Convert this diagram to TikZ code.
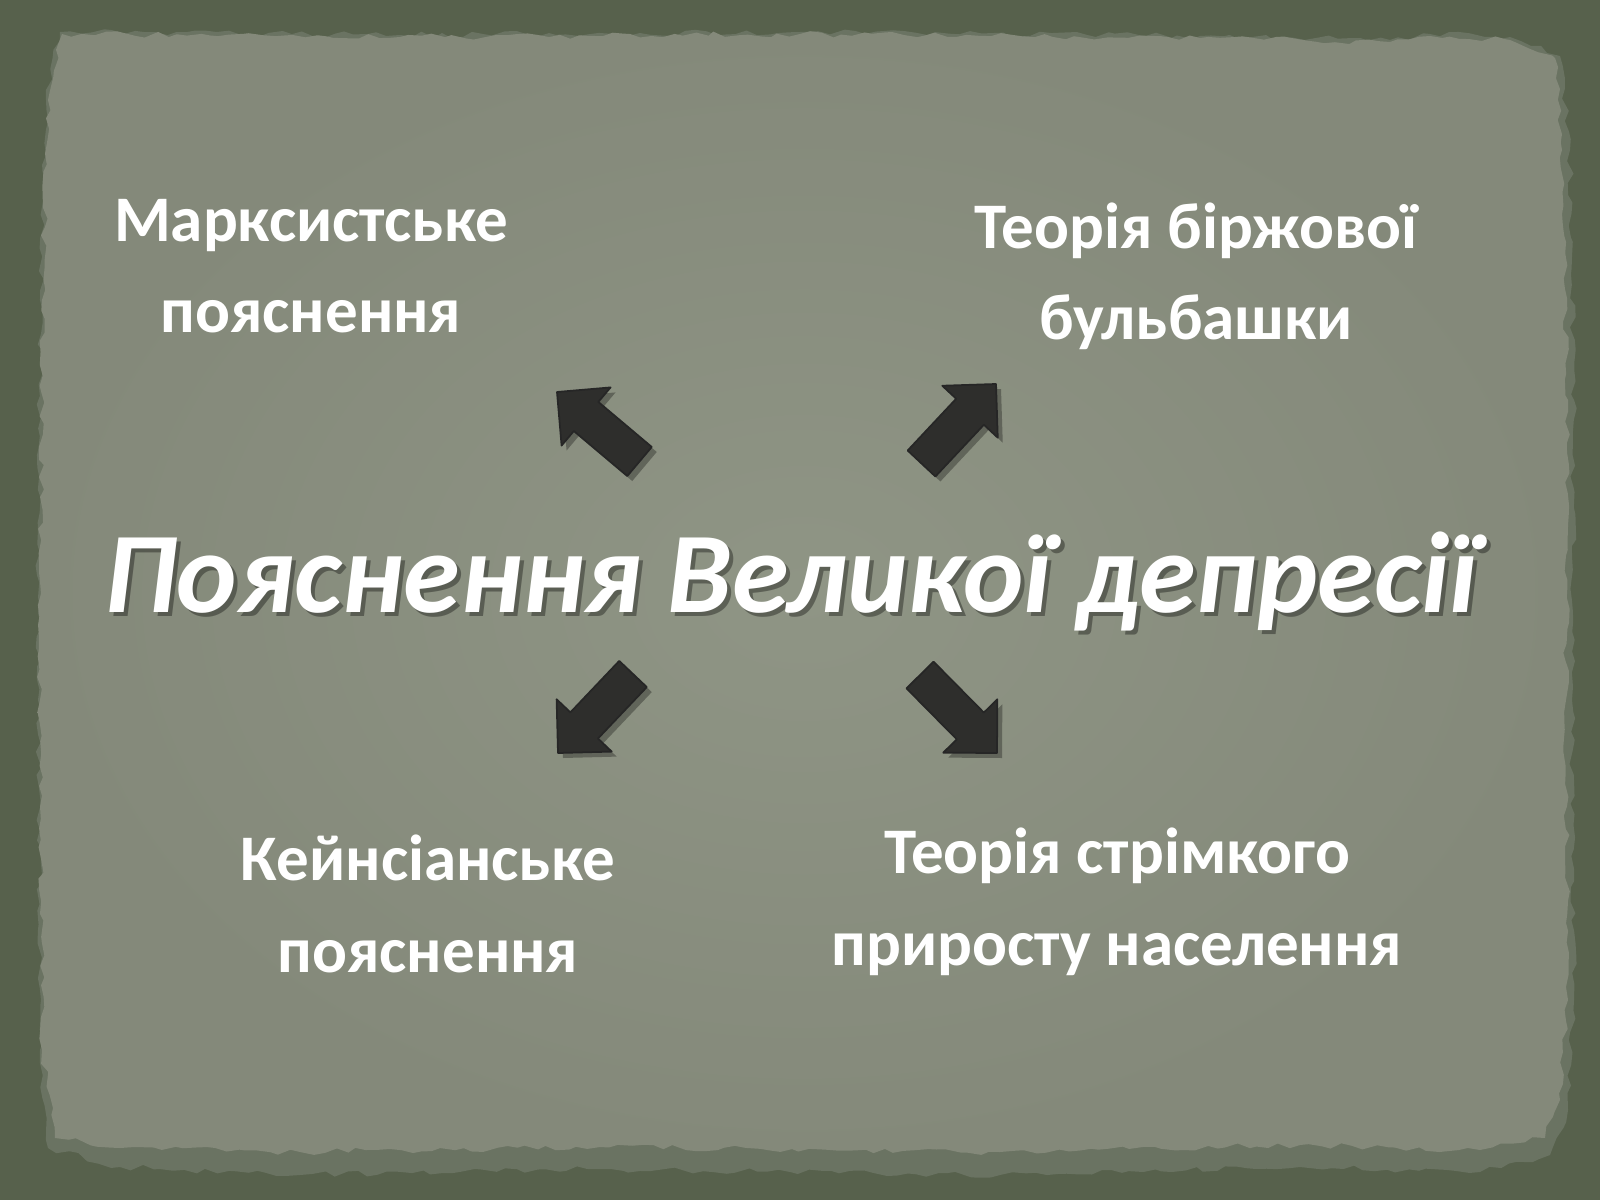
\documentclass[tikz,border=0pt]{standalone}
\usepackage{fontspec}
\setmainfont{Carlito}
\usetikzlibrary{calc,decorations.pathmorphing}
\definecolor{bgdark}{HTML}{57614C}
\definecolor{rim}{HTML}{6A7362}
\definecolor{paperin}{HTML}{8F9585}
\definecolor{paperout}{HTML}{84897A}
\definecolor{arrowfill}{HTML}{2E2E2C}
\tikzset{
  lbl/.style={font=\bfseries\fontsize{18.5}{26}\selectfont, text=white, align=center, inner sep=0pt},
  ttl/.style={font=\bfseries\itshape\fontsize{32.7}{40}\selectfont, text=white, inner sep=0pt},
  ttlshadow/.style={ttl, text=black, opacity=0.35},
  barrow/.style={fill=arrowfill, draw=black!85, line width=0.5pt, line join=round},
  barrowshadow/.style={fill=black, opacity=0.3, transform canvas={shift={(0.05,-0.05)}}},
  torn/.style={decorate, decoration={random steps, segment length=3pt, amplitude=0.9pt}}
}
\newcommand{\blockarrow}[4]{% name, tail, tip, style
  \path[#4] ($(#2)!0.19cm!90:(#3)$) -- ($(#1n)!0.19cm!90:(#3)$) -- ($(#1n)!0.38cm!90:(#3)$)
    -- (#3) -- ($(#1n)!0.38cm!-90:(#3)$) -- ($(#1n)!0.19cm!-90:(#3)$) -- ($(#2)!0.19cm!-90:(#3)$) -- cycle;
}
\begin{document}
\begin{tikzpicture}
\pgfmathsetseed{7}
\useasboundingbox (0,0) rectangle (16,12);
\fill[bgdark] (0,0) rectangle (16,12);
% torn rim (mostly along the right and bottom edges)
\fill[rim, torn] (0.60,11.68) -- (4,11.65) -- (8,11.68) -- (12,11.64) -- (13.9,11.60) -- (14.3,11.66) -- (15.1,11.63)
  -- (15.60,11.44) -- (15.70,10.5) -- (15.74,8) -- (15.72,5) -- (15.74,2) -- (15.68,0.9) -- (15.5,0.45)
  -- (14.8,0.28) -- (13,0.33) -- (10,0.25) -- (6,0.31) -- (3,0.25) -- (1.2,0.33) -- (0.48,0.52)
  -- (0.40,1.5) -- (0.38,5) -- (0.40,9) -- (0.46,11.0) -- cycle;
% paper
\shade[inner color=paperin, outer color=paperout, torn] (0.62,11.66) -- (4,11.63) -- (8,11.66) -- (12,11.62) -- (13.9,11.58) -- (14.3,11.64) -- (15.1,11.6)
  -- (15.55,11.42) -- (15.62,10.5) -- (15.68,8) -- (15.66,5) -- (15.68,2) -- (15.6,1.0) -- (15.45,0.62)
  -- (14.8,0.5) -- (13,0.55) -- (10,0.48) -- (6,0.53) -- (3,0.48) -- (1.2,0.52) -- (0.55,0.62)
  -- (0.42,1.5) -- (0.40,5) -- (0.42,9) -- (0.48,11.0) -- cycle;

% arrows
\coordinate (ult) at (6.395,7.385); \coordinate (ulh) at (5.57,8.08);
\coordinate (urt) at (9.215,7.365); \coordinate (urh) at (9.96,8.16);
\coordinate (llt) at (6.33,5.26);   \coordinate (llh) at (5.58,4.47);
\coordinate (lrt) at (9.20,5.25);   \coordinate (lrh) at (9.97,4.47);
\coordinate (uln) at ($(ulh)!0.38cm!(ult)$);
\coordinate (urn) at ($(urh)!0.38cm!(urt)$);
\coordinate (lln) at ($(llh)!0.38cm!(llt)$);
\coordinate (lrn) at ($(lrh)!0.38cm!(lrt)$);
\blockarrow{ul}{ult}{ulh}{barrowshadow}
\blockarrow{ur}{urt}{urh}{barrowshadow}
\blockarrow{ll}{llt}{llh}{barrowshadow}
\blockarrow{lr}{lrt}{lrh}{barrowshadow}
\blockarrow{ul}{ult}{ulh}{barrow}
\blockarrow{ur}{urt}{urh}{barrow}
\blockarrow{ll}{llt}{llh}{barrow}
\blockarrow{lr}{lrt}{lrh}{barrow}

% title
\node[ttlshadow, anchor=base] (titleshadow) at (7.95,5.84) {Пояснення Великої депресії};
\node[ttl, anchor=base] (title) at (7.91,5.88) {Пояснення Великої депресії};

% labels (base anchor = baseline of the last line)
\node[lbl, anchor=base] (marx) at (3.11,8.67) {Марксистське\\пояснення};
\node[lbl, anchor=base] (bubble) at (11.96,8.60) {Теорія біржової\\бульбашки};
\node[lbl, anchor=base] (keynes) at (4.28,2.28) {Кейнсіанське\\пояснення};
\node[lbl, anchor=base] (pop) at (11.17,2.35) {Теорія стрімкого\\приросту населення};
\end{tikzpicture}
\end{document}
